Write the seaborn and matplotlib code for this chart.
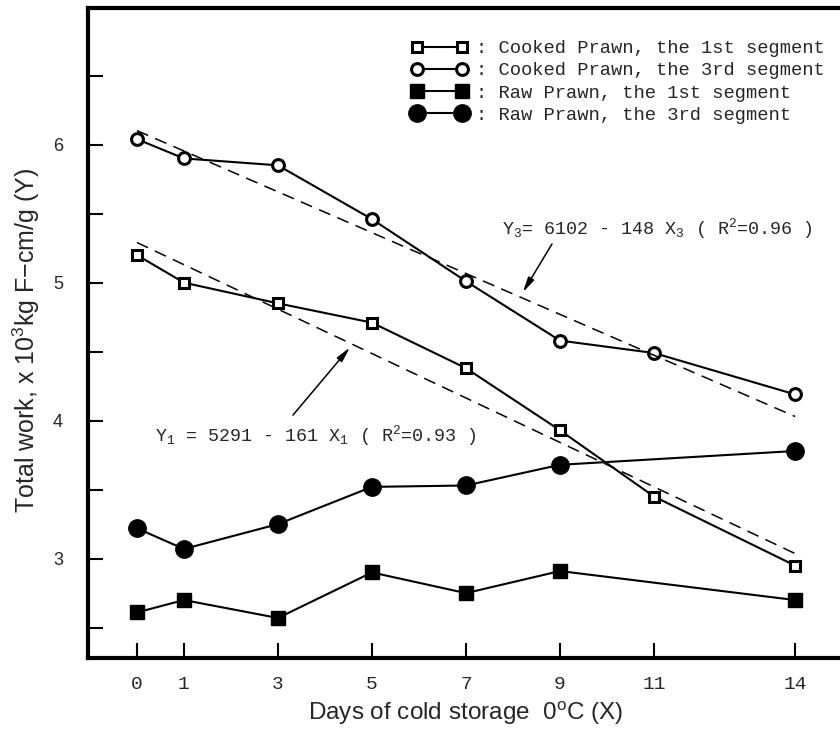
import matplotlib
matplotlib.use("Agg")
import matplotlib.pyplot as plt
import seaborn as sns
import pandas as pd
import numpy as np

# ---- data ----
days = [0, 1, 3, 5, 7, 9, 11, 14]
cooked_1st = [5.20, 5.00, 4.85, 4.71, 4.38, 3.93, 3.45, 2.95]
cooked_3rd = [6.04, 5.90, 5.85, 5.46, 5.01, 4.58, 4.49, 4.19]
raw_days = [0, 1, 3, 5, 7, 9, 14]
raw_1st = [2.61, 2.70, 2.57, 2.90, 2.75, 2.91, 2.70]
raw_3rd = [3.22, 3.07, 3.25, 3.52, 3.53, 3.68, 3.78]

# regression equations (Y in 10^3 units): Y = a - b X
reg3_a, reg3_b = 6.102, 0.148
reg1_a, reg1_b = 5.291, 0.161
reg_x = [0, 14]

x_ticks = [0, 1, 3, 5, 7, 9, 11, 14]
y_ticks_major = [3, 4, 5, 6]
y_ticks_minor = [2.5, 3.5, 4.5, 5.5, 6.5]

labels = [": Cooked Prawn, the 1st segment",
          ": Cooked Prawn, the 3rd segment",
          ": Raw Prawn, the 1st segment",
          ": Raw Prawn, the 3rd segment"]

sns.set_style("ticks")
plt.rcParams['font.family'] = ['Liberation Mono', 'DejaVu Sans Mono']
plt.rcParams['mathtext.default'] = 'regular'

fig = plt.figure(figsize=(8.4, 7.29), dpi=100)
ax = fig.add_axes([88/840, 71/729, 755/840, 650/729])

ln_kw = dict(color='black', linewidth=1.5, estimator=None)

h1 = sns.lineplot(x=days, y=cooked_1st, ax=ax, marker='s', markersize=7.5,
                  markerfacecolor='white', markeredgecolor='black',
                  markeredgewidth=2.2, **ln_kw).lines[-1]
h2 = sns.lineplot(x=days, y=cooked_3rd, ax=ax, marker='o', markersize=8.5,
                  markerfacecolor='white', markeredgecolor='black',
                  markeredgewidth=2.2, **ln_kw).lines[-1]
h3 = sns.lineplot(x=raw_days, y=raw_1st, ax=ax, marker='s', markersize=9.5,
                  markerfacecolor='black', markeredgecolor='black',
                  markeredgewidth=1, **ln_kw).lines[-1]
h4 = sns.lineplot(x=raw_days, y=raw_3rd, ax=ax, marker='o', markersize=12.5,
                  markerfacecolor='black', markeredgecolor='black',
                  markeredgewidth=1, **ln_kw).lines[-1]

reg3_y = [reg3_a - reg3_b * v for v in reg_x]
reg1_y = [reg1_a - reg1_b * v for v in reg_x]
sns.lineplot(x=reg_x, y=reg3_y, ax=ax, color='black', linewidth=1.1,
             linestyle=(0, (8, 5)), estimator=None)
sns.lineplot(x=reg_x, y=reg1_y, ax=ax, color='black', linewidth=1.1,
             linestyle=(0, (8, 5)), estimator=None)

ax.set_xlim(-1.04, 15.02)
ax.set_ylim(2.28, 6.99)

ax.set_xticks(x_ticks)
ax.set_xticklabels([str(v) for v in x_ticks], fontsize=14,
                   family=['Liberation Mono'])
ax.set_yticks(y_ticks_major)
ax.set_yticklabels([str(v) for v in y_ticks_major], fontsize=13,
                   family=['Liberation Sans'])
ax.set_yticks(y_ticks_minor, minor=True)
ax.tick_params(axis='both', which='both', direction='in', length=11,
               width=1.5, color='black')
ax.tick_params(axis='x', pad=13)
ax.tick_params(axis='y', which='major', pad=18)

for sp in ax.spines.values():
    sp.set_linewidth(3)
    sp.set_color('black')

ax.set_xlabel(r"Days of cold storage  0$^{o}$C (X)", fontsize=17.5,
              family=['Liberation Sans'], labelpad=5)
ax.set_ylabel(r"Total work, x 10$^{3}$kg F$-$cm/g (Y)", fontsize=18,
              family=['Liberation Sans'])
ax.yaxis.set_label_coords(-46/755, 0.489)

ax.annotate("", xy=(8.21, 4.93), xytext=(8.83, 5.28),
            arrowprops=dict(arrowstyle='-|>,head_length=0.9,head_width=0.2',
                            color='black', lw=1.1, shrinkA=0, shrinkB=0))
ax.text(7.76, 5.35, r"Y$_3$= 6102 - 148 X$_3$ ( R$^2$=0.96 )",
        fontsize=13.2, va='baseline', ha='left')

ax.annotate("", xy=(4.53, 4.53), xytext=(3.32, 4.04),
            arrowprops=dict(arrowstyle='-|>,head_length=0.9,head_width=0.2',
                            color='black', lw=1.1, shrinkA=0, shrinkB=0))
ax.text(0.38, 3.85, r"Y$_1$ = 5291 - 161 X$_1$ ( R$^2$=0.93 )",
        fontsize=13.2, va='baseline', ha='left')

ax.legend([h1, h2, h3, h4], labels, loc='upper left',
          bbox_to_anchor=(411/840, 1 - 40/729), bbox_transform=fig.transFigure,
          frameon=False, fontsize=13.5, handlelength=3.0, handletextpad=0.45,
          labelspacing=0.27, borderpad=0, borderaxespad=0, numpoints=2)

fig.savefig("out.png", dpi=100)
